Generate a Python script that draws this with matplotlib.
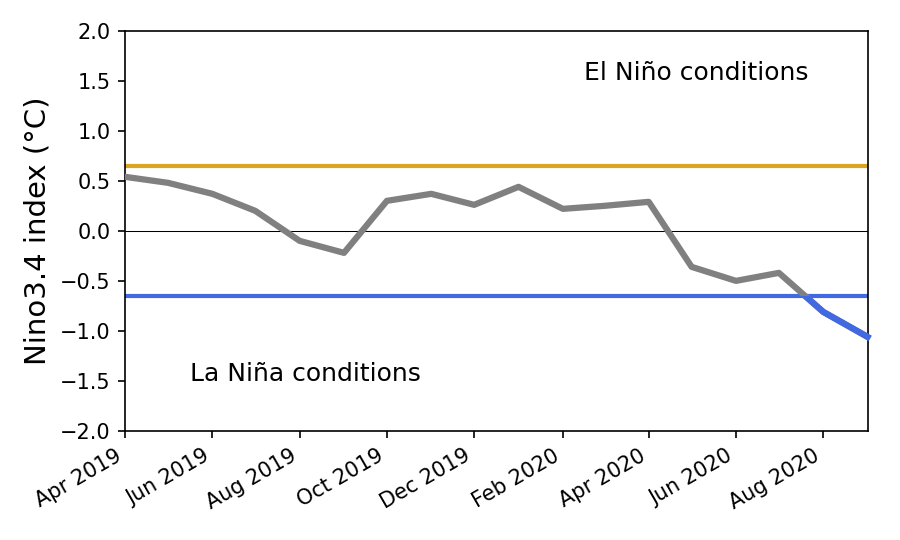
import matplotlib
matplotlib.use("Agg")
import matplotlib.pyplot as plt
import matplotlib.dates as mdates
from matplotlib.patches import Rectangle
import numpy as np

# monthly Nino3.4 values, first of each month
months = ["2019-04", "2019-05", "2019-06", "2019-07", "2019-08", "2019-09",
          "2019-10", "2019-11", "2019-12", "2020-01", "2020-02", "2020-03",
          "2020-04", "2020-05", "2020-06", "2020-07", "2020-08", "2020-09"]
nino34 = [0.54, 0.48, 0.37, 0.20, -0.10, -0.22,
          0.30, 0.37, 0.26, 0.44, 0.22, 0.25,
          0.29, -0.36, -0.50, -0.42, -0.81, -1.06]
el_nino_thresh = 0.65
la_nina_thresh = -0.65

dates = np.array(months, dtype="datetime64[D]")

fig = plt.figure(figsize=(6, 3.6), dpi=150)
ax = fig.add_axes([0.139, 0.202, 0.825, 0.741])

ax.axhline(el_nino_thresh, color="goldenrod", lw=2, zorder=2)
ax.axhline(la_nina_thresh, color="royalblue", lw=2, zorder=2)
ax.axhline(0, color="black", lw=0.5, zorder=1)

ax.plot(dates, nino34, color="gray", lw=3, zorder=3)
# same line again, only the part below the La Nina threshold shows
blue, = ax.plot(dates, nino34, color="royalblue", lw=3, zorder=4)
clip = Rectangle((0, -10), 1e6, 10 + la_nina_thresh, transform=ax.transData)
blue.set_clip_path(clip)

ax.set_ylim(-2, 2)
ax.set_xlim(np.datetime64("2019-04-01"), np.datetime64("2020-09-01"))
ax.xaxis.set_major_locator(mdates.MonthLocator(bymonth=[2, 4, 6, 8, 10, 12]))
ax.xaxis.set_major_formatter(mdates.DateFormatter("%b %Y"))
for lab in ax.get_xticklabels():
    lab.set_rotation(30)
    lab.set_ha("right")

ax.set_ylabel("Nino3.4 index (°C)", fontsize=14)
ax.text(0.618, 0.895, "El Niño conditions", transform=ax.transAxes,
        fontsize=12, va="center")
ax.text(0.0875, 0.1425, "La Niña conditions", transform=ax.transAxes,
        fontsize=12, va="center")

fig.savefig("out.png", dpi=150)
